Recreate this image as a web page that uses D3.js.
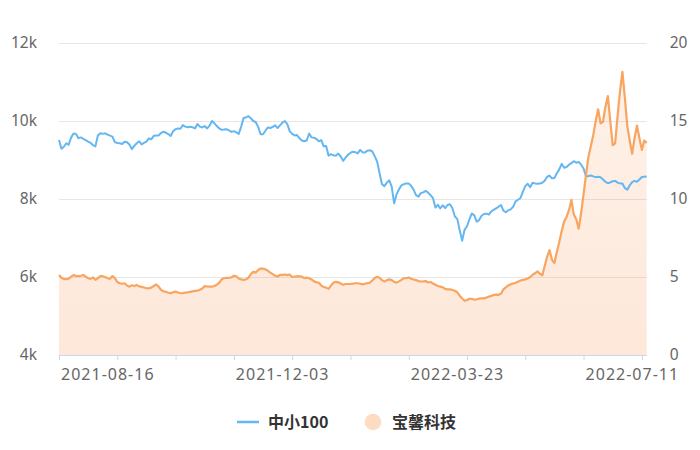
<!DOCTYPE html>
<html><head><meta charset="utf-8">
<script src="https://cdn.jsdelivr.net/npm/d3@7"></script>
<style>
html,body{margin:0;padding:0;background:#fff;}
svg{display:block;}
</style></head>
<body><svg id="c" width="700" height="450"></svg>
<script>
// ---------- DATA ----------
const startDate = "2021-07-13";
const endDate = "2022-07-13";
const holidays = ["2021-09-20","2021-09-21","2021-10-01","2021-10-04","2021-10-05","2021-10-06","2021-10-07",
  "2022-01-03","2022-01-31","2022-02-01","2022-02-02","2022-02-03","2022-02-04",
  "2022-04-04","2022-04-05","2022-05-02","2022-05-03","2022-05-04","2022-06-03"];
const seriesNames = ["中小100", "宝馨科技"];
const xTickLabels = ["2021-08-16","2021-12-03","2022-03-23","2022-07-11"];
const leftTicks = [4000, 6000, 8000, 10000, 12000];
const rightTicks = [0, 5, 10, 15, 20];

const zx100 = [9513,9290,9340,9430,9390,9580,9680,9670,9560,9580,9540,9510,9470,9440,9380,9350,9630,9685,9670,9685,
9650,9625,9600,9460,9435,9430,9410,9470,9455,9395,9280,9360,9430,9480,9400,9440,9470,9556,9530,9620,
9630,9630,9690,9725,9700,9665,9615,9740,9790,9810,9800,9895,9856,9840,9850,9840,9810,9923,9856,9835,
9870,9810,9880,10000,9940,9870,9810,9775,9780,9790,9760,9720,9740,9710,9670,9850,10075,10090,10125,10070,
10000,9975,9850,9660,9660,9750,9835,9820,9850,9890,9820,9890,9960,10000,9920,9740,9670,9630,9640,9560,
9500,9480,9500,9680,9580,9570,9540,9480,9510,9350,9360,9110,9150,9120,9110,9165,9090,8980,9060,9140,
9180,9213,9200,9170,9260,9200,9190,9240,9250,9220,9100,8960,8660,8380,8330,8420,8480,8320,7890,8120,
8250,8350,8380,8400,8395,8340,8240,8100,8060,8150,8170,8210,8160,8100,8020,7780,7850,7760,7840,7765,
7846,7865,7765,7550,7490,7200,6930,7210,7300,7480,7630,7580,7420,7460,7570,7615,7625,7600,7680,7720,
7760,7800,7846,7700,7660,7710,7735,7800,7940,7980,8020,8180,8330,8390,8300,8418,8400,8390,8395,8418,
8470,8570,8600,8530,8540,8660,8760,8900,8800,8820,8880,8920,8970,8930,8950,8880,8780,8575,8590,8605,
8580,8560,8570,8560,8500,8440,8405,8425,8455,8465,8420,8400,8395,8280,8240,8350,8430,8465,8440,8500,
8565,8570,8575];

const bxkj = [5.13,4.95,4.87,4.86,4.90,5.02,5.12,5.07,5.06,5.08,5.13,5.02,4.92,4.88,4.97,4.82,4.92,5.06,5.05,5.00,
4.92,4.88,5.06,4.93,4.68,4.60,4.57,4.60,4.45,4.38,4.47,4.42,4.49,4.40,4.37,4.33,4.28,4.27,4.32,4.42,
4.52,4.38,4.18,4.09,4.05,3.99,3.96,4.02,4.06,4.01,3.96,3.97,4.00,4.02,4.05,4.08,4.11,4.12,4.18,4.26,
4.42,4.39,4.38,4.38,4.42,4.50,4.64,4.85,4.92,4.95,4.95,4.98,5.08,5.05,4.90,4.85,4.82,4.85,4.95,5.18,
5.34,5.28,5.45,5.54,5.54,5.49,5.40,5.28,5.18,5.08,5.03,5.13,5.14,5.16,5.12,5.16,5.00,5.02,5.05,5.04,
5.02,4.93,4.96,4.92,4.84,4.72,4.66,4.63,4.45,4.36,4.32,4.24,4.45,4.63,4.69,4.66,4.58,4.50,4.55,4.55,
4.55,4.57,4.60,4.60,4.57,4.53,4.57,4.61,4.63,4.78,4.93,5.01,4.94,4.80,4.70,4.80,4.85,4.80,4.69,4.64,
4.72,4.82,4.92,4.92,4.97,4.89,4.84,4.80,4.74,4.71,4.72,4.74,4.65,4.68,4.58,4.50,4.42,4.38,4.34,4.24,
4.21,4.21,4.17,4.12,4.02,3.80,3.62,3.48,3.52,3.60,3.60,3.54,3.57,3.61,3.63,3.63,3.68,3.74,3.79,3.85,
3.87,3.86,3.92,4.21,4.34,4.46,4.53,4.58,4.63,4.70,4.77,4.82,4.85,4.90,5.00,5.13,5.24,5.36,5.22,5.10,
5.70,6.30,6.72,6.10,5.90,6.60,7.25,7.95,8.55,8.85,9.30,9.94,9.00,8.70,8.10,9.10,10.30,11.55,12.70,13.40,
14.10,15.00,15.75,14.85,14.95,15.90,16.60,15.00,13.45,13.57,15.30,16.90,18.15,16.50,14.70,13.75,12.90,13.90,14.70,13.90,
13.15,13.75,13.60];

// trading-day categories
const dates = (function(){
  const out = [];
  const hs = new Set(holidays);
  let d = new Date(startDate + "T00:00:00Z");
  const end = new Date(endDate + "T00:00:00Z");
  while (d <= end) {
    const wd = d.getUTCDay();
    const s = d.toISOString().slice(0,10);
    if (wd !== 0 && wd !== 6 && !hs.has(s)) out.push(s);
    d = new Date(d.getTime() + 86400000);
  }
  return out;
})();

// ---------- CHART ----------
const svg = d3.select("#c");
const L = 59, R = 646.7, T = 43, B = 355;
const N = zx100.length;
const x = d3.scaleLinear().domain([0, N - 1]).range([L, R]);
const yL = d3.scaleLinear().domain([4000, 12000]).range([B, T]);
const yR = d3.scaleLinear().domain([0, 20]).range([B, T]);
const font = "'Noto Sans', 'Noto Sans CJK SC', sans-serif";

// gradient
const defs = svg.append("defs");
const grad = defs.append("linearGradient").attr("id","g").attr("gradientUnits","userSpaceOnUse")
  .attr("x1",0).attr("y1",T).attr("x2",0).attr("y2",B);
grad.append("stop").attr("offset","0%").attr("stop-color","rgb(249,150,85)").attr("stop-opacity",0.12);
grad.append("stop").attr("offset","100%").attr("stop-color","rgb(249,150,85)").attr("stop-opacity",0.22);

// grid lines
const grid = svg.append("g").attr("transform", `translate(${L},0)`)
  .call(d3.axisLeft(yL).tickValues(leftTicks).tickSize(-(R - L)).tickFormat(""));
grid.select(".domain").remove();
grid.selectAll("line").attr("stroke", "#e6e6e6").attr("stroke-width", 1);

// left axis labels
const ga = svg.append("g").attr("transform", `translate(${L},0)`)
  .call(d3.axisLeft(yL).tickValues(leftTicks).tickSize(0).tickPadding(22).tickFormat(d => (d / 1000) + "k"));
ga.select(".domain").remove();
ga.selectAll("text").attr("fill", "#666").style("font-family", font).style("font-size", "15.5px");

// right axis labels
const gr = svg.append("g").attr("transform", `translate(${R},0)`)
  .call(d3.axisRight(yR).tickValues(rightTicks).tickSize(0).tickPadding(23));
gr.select(".domain").remove();
gr.selectAll("text").attr("fill", "#666").style("font-family", font).style("font-size", "15.5px");

// area + lines
const area = d3.area().x((d, i) => x(i)).y0(B).y1(d => yR(d));
svg.append("path").datum(bxkj).attr("d", area).attr("fill", "url(#g)");

const lineL = d3.line().x((d, i) => x(i)).y(d => yL(d));
svg.append("path").datum(zx100).attr("d", lineL).attr("fill", "none")
  .attr("stroke", "#64b7f0").attr("stroke-width", 2).attr("stroke-linejoin", "round");

const lineR = d3.line().x((d, i) => x(i)).y(d => yR(d));
svg.append("path").datum(bxkj).attr("d", lineR).attr("fill", "none")
  .attr("stroke", "#f9a45f").attr("stroke-width", 2.2).attr("stroke-linejoin", "round");

// x axis
const tickIdx = d3.range(0, N, 24);
const gx = svg.append("g").attr("transform", `translate(0,${B})`)
  .call(d3.axisBottom(x).tickValues(tickIdx).tickSize(5).tickPadding(9)
    .tickFormat(i => xTickLabels.includes(dates[i]) ? dates[i] : ""));
gx.select(".domain").attr("stroke", "#ccd6eb").attr("d", `M${L},0.5H${R}`);
gx.selectAll("line").attr("stroke", "#ccd6eb");
gx.selectAll("text").attr("fill", "#666").attr("dx", -10)
  .style("font-family", font).style("font-size", "16px").style("letter-spacing", "1px");

// legend
const lg = svg.append("g");
lg.append("line").attr("x1", 237).attr("x2", 259).attr("y1", 422).attr("y2", 422)
  .attr("stroke", "#64b7f0").attr("stroke-width", 2.5);
lg.append("text").attr("x", 268).attr("y", 422).attr("dy", "0.36em").text(seriesNames[0])
  .attr("fill", "#333").style("font-family", "'Noto Sans CJK SC', sans-serif").style("font-size", "16px").style("font-weight", "bold");
lg.append("circle").attr("cx", 373).attr("cy", 422).attr("r", 8.3).attr("fill", "#fddcc4");
lg.append("text").attr("x", 392).attr("y", 422).attr("dy", "0.36em").text(seriesNames[1])
  .attr("fill", "#333").style("font-family", "'Noto Sans CJK SC', sans-serif").style("font-size", "16px").style("font-weight", "bold");
</script></body></html>
